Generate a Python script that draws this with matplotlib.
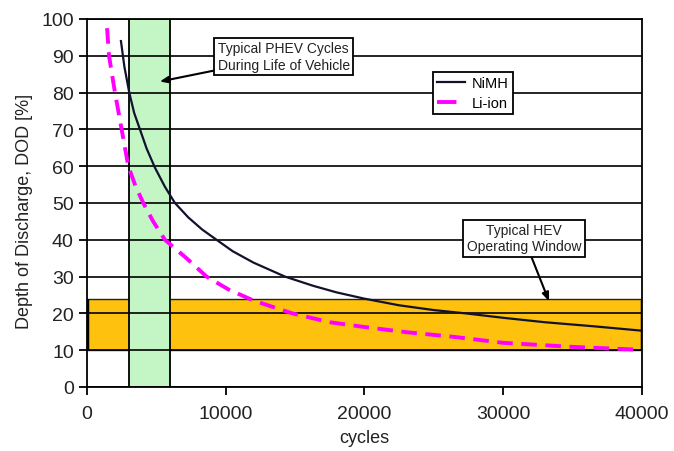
import matplotlib
matplotlib.use('Agg')
from matplotlib import pyplot as plt
from matplotlib.patches import Rectangle

plt.rcParams['font.family'] = ['Liberation Sans', 'DejaVu Sans']

# NiMH cycle life vs depth of discharge
nimh_cycles = [2450, 2700, 3050, 3400, 3820, 4300, 4900, 5620, 6340, 7300, 8300,
               9340, 10500, 12000, 14270, 16300, 18000, 20000, 22500, 25000,
               27300, 30000, 33000, 36500, 40000]
nimh_dod = [94, 87, 80, 74.5, 70, 64.8, 59.6, 54.4, 50, 46.1, 42.8,
            40, 36.9, 33.8, 30, 27.5, 25.7, 24, 22.2, 20.9,
            20, 18.8, 17.6, 16.5, 15.3]

# Li-ion cycle life vs depth of discharge
liion_cycles = [1450, 1590, 2020, 2500, 2980, 3500, 4060, 4770, 5620, 7170, 8620,
                10200, 12000, 14800, 17500, 20000, 23000, 26500, 30000, 35000, 40000]
liion_dod = [97.5, 90, 80, 70, 60, 54.6, 50, 45, 40, 35, 30,
             26.5, 23.5, 20, 17.6, 16.3, 14.9, 13.6, 12.0, 10.9, 10.1]

phev_cycles = (3000, 6000)     # green band
hev_cycles = (0, 40000)        # orange band
hev_dod = (10, 24)

fig = plt.figure(figsize=(6.74, 4.52), dpi=100)
ax = fig.add_axes([0.129, 0.1416, 0.8235, 0.8142])

# Bands
ax.add_patch(Rectangle((hev_cycles[0], hev_dod[0]), hev_cycles[1] - hev_cycles[0],
                       hev_dod[1] - hev_dod[0], facecolor='#fec10e',
                       edgecolor='#222222', lw=1.0, zorder=1))
ax.vlines(hev_cycles, hev_dod[0], hev_dod[1], colors='black', lw=2.5, zorder=5)
ax.add_patch(Rectangle((phev_cycles[0], 0), phev_cycles[1] - phev_cycles[0], 100,
                       facecolor='#c4f5c4', edgecolor='black', lw=1.3, zorder=2))

# Grid lines
for v in range(0, 101, 10):
    ax.axhline(v, color='black', lw=1.2, zorder=3)

# Curves
ax.plot(nimh_cycles, nimh_dod, color='#12122e', lw=1.6, label='NiMH', zorder=4)
ax.plot(liion_cycles, liion_dod, color='#ff00ff', lw=2.8, dashes=(4, 2.2),
        label='Li-ion', zorder=4)

ax.set_xlim(0, 40000)
ax.set_ylim(0, 100)
ax.set_xticks(range(0, 40001, 10000))
ax.set_yticks(range(0, 101, 10))
ax.tick_params(axis='both', labelsize=14, length=6, width=1.3, color='black',
               labelcolor='#222222')
ax.tick_params(axis='x', pad=7)
for s in ax.spines.values():
    s.set_linewidth(1.3)

ax.set_xlabel('cycles', fontsize=13, color='#222222', labelpad=5)
ax.set_ylabel('Depth of Discharge, DOD [%]', fontsize=13, color='#222222', labelpad=5)
ax.yaxis.set_label_coords(-0.098, 0.48)

# Legend
leg = ax.legend(loc='upper left', bbox_to_anchor=(0.623, 0.857), borderaxespad=0,
                fontsize=10.5, fancybox=False, framealpha=1, edgecolor='black',
                handlelength=1.9, handletextpad=0.5, borderpad=0.3,
                labelspacing=0.4)
leg.get_frame().set_linewidth(1.3)
leg.set_zorder(6)
leg.get_lines()[1].set_dashes((5.0, 10))

# Annotations
box = dict(boxstyle='square,pad=0.25', facecolor='white', edgecolor='black', lw=1.3)
ax.annotate('Typical PHEV Cycles\nDuring Life of Vehicle', xy=(5250, 83),
            xytext=(14170, 89.8), ha='center', va='center', fontsize=10,
            color='#222222', bbox=box, zorder=7,
            arrowprops=dict(arrowstyle='-|>,head_length=0.5,head_width=0.2',
                            color='black', lw=1.5, shrinkA=0, shrinkB=0))
ax.annotate('Typical HEV\nOperating Window', xy=(33300, 23.3),
            xytext=(31500, 40.4), ha='center', va='center', fontsize=10,
            color='#222222', bbox=box, zorder=7,
            arrowprops=dict(arrowstyle='-|>,head_length=0.5,head_width=0.2',
                            color='black', lw=1.5, shrinkA=0, shrinkB=0))

fig.savefig('out.png', dpi=100)
